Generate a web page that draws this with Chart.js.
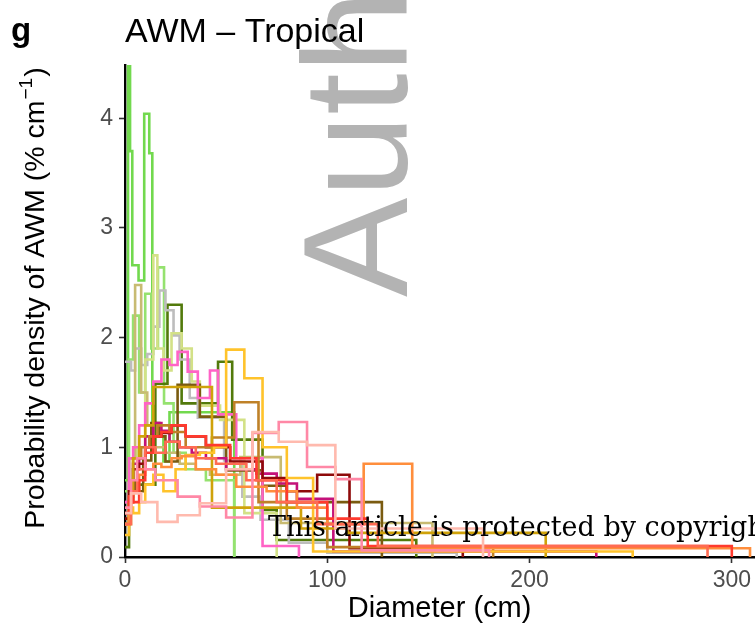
<!DOCTYPE html>
<html lang="en">
<head>
<meta charset="UTF-8">
<style>
  html, body { margin: 0; padding: 0; background: #fff; overflow: hidden; }
  #wrap { width: 755px; height: 627px; }
</style>
<script src="https://cdn.jsdelivr.net/npm/chart.js"></script>
</head>
<body>
<div id="wrap"><canvas id="chart" width="755" height="627"></canvas></div>
<script>
// x ticks / y ticks
const xTicks = [0, 100, 200, 300];
const yTicks = [0, 1, 2, 3, 4];

// one pair of arrays per site: bin edges (cm) and density (% per cm)
const edgesGreenTall = [0, 1.5, 2.5, 3.6, 6.7, 9.5, 12, 13.5, 19, 22, 54];
const densGreenTall  = [0.7, 4.7, 3.7, 2.66, 2.52, 4.04, 3.68, 1.1, 0.87, 1.32];

const edgesGreen = [0, 2, 4, 7, 10, 13, 16.3, 19.3, 24, 30, 40, 54];
const densGreen  = [0.6, 1.8, 2.2, 1.5, 2.4, 1.9, 2.64, 1.4, 0.95, 0.8, 0.7];

const edgesLightGreen = [0, 3, 6, 10, 14, 16, 19, 23, 28, 33, 37, 47, 59, 75];
const densLightGreen  = [0.3, 0.6, 1.0, 1.8, 2.75, 1.9, 1.7, 2.04, 1.9, 1.6, 1.38, 1.25, 0.4];

const edgesKhaki = [0, 2, 5, 8, 11, 14, 20, 27, 35, 42, 57, 77, 152];
const densKhaki  = [0.5, 0.9, 2.48, 1.5, 1.2, 1.0, 0.95, 0.85, 0.8, 0.75, 0.91, 0.31];

const edgesGrey = [0, 3, 5, 8, 11, 14, 17, 20, 24, 27, 32, 36, 49, 58, 67, 81, 100, 164];
const densGrey  = [1.78, 1.7, 1.9, 1.75, 1.85, 2.1, 2.43, 2.25, 2.02, 1.8, 1.45, 1.27, 0.88, 0.55, 0.34, 0.13, 0.04];

const edgesOlive = [0, 2, 6, 15, 21, 28, 46, 53, 68, 75, 144];
const densOlive  = [0.09, 0.6, 0.66, 1.58, 2.3, 1.4, 1.78, 1.07, 0.43, 0.155];

const edgesAmber = [0, 2, 4, 7, 10, 14, 19, 25, 30, 37, 44, 50, 59, 68, 80, 93, 251];
const densAmber  = [0.2, 0.45, 0.4, 0.5, 0.66, 0.75, 0.6, 0.8, 0.93, 0.95, 1.0, 1.89, 1.63, 1.0, 0.72, 0.05];

const edgesGold = [0, 2, 4, 7, 10, 14, 43, 87, 110, 208];
const densGold  = [0.3, 0.5, 0.9, 1.1, 1.2, 1.55, 0.45, 0.26, 0.22];

const edgesDarkBrown = [0, 2, 5, 9, 13, 17, 20, 26, 37, 50, 68, 80, 127];
const densDarkBrown  = [0.3, 0.7, 0.6, 0.88, 1.22, 1.1, 0.87, 1.57, 1.28, 0.79, 0.65, 0.5];

const edgesBrown = [0, 2, 4, 8, 12, 16, 22, 30, 43, 54, 66, 80, 100, 182];
const densBrown  = [0.3, 0.55, 0.9, 1.0, 1.1, 1.2, 1.14, 1.0, 1.09, 1.41, 0.5, 0.35, 0.09];

const edgesDarkRed = [0, 2, 4, 7, 10, 14, 18, 23, 30, 40, 52, 68, 80, 95, 111, 167];
const densDarkRed  = [0.35, 0.6, 0.8, 0.85, 1.0, 1.1, 1.13, 1.2, 1.1, 1.0, 0.87, 0.72, 0.6, 0.75, 0.08];

const edgesMagenta = [0, 2, 4, 7, 10, 14, 18, 22, 27, 33, 40, 50, 65, 75, 85, 103, 233];
const densMagenta  = [0.4, 0.5, 0.85, 0.9, 1.1, 1.22, 1.15, 1.05, 1.0, 0.95, 0.9, 0.8, 0.76, 0.67, 0.53, 0.05];

const edgesPink = [0, 2, 4, 7, 10, 14, 18, 22, 26, 31, 36, 42, 46, 55, 68, 86];
const densPink  = [0.5, 0.9, 1.0, 1.2, 1.4, 1.6, 1.8, 1.75, 1.87, 1.69, 1.45, 1.7, 1.3, 0.9, 0.1];

const edgesRose = [0, 3, 6, 10, 15, 26, 37, 50, 63, 76, 90, 104, 117, 180];
const densRose  = [0.45, 0.7, 0.9, 0.8, 0.7, 0.55, 0.46, 0.36, 1.13, 1.23, 0.82, 0.71, 0.06];

const edgesSalmon = [0, 3, 8, 16, 26, 37, 50, 63, 76, 90, 104, 177];
const densSalmon  = [0.4, 0.58, 0.5, 0.32, 0.38, 0.49, 0.8, 1.14, 1.05, 1.02, 0.26];

const edgesOrange = [0, 2, 4, 7, 10, 14, 18, 23, 28, 35, 45, 55, 70, 85, 100, 118, 142, 309];
const densOrange  = [0.3, 0.5, 0.6, 0.75, 0.8, 0.85, 0.82, 0.9, 0.92, 0.8, 0.75, 0.64, 0.6, 0.45, 0.3, 0.85, 0.08];

const edgesRed = [0, 2, 4, 7, 10, 14, 18, 23, 30, 40, 52, 65, 80, 100, 120, 300];
const densRed  = [0.4, 0.55, 0.5, 0.7, 0.95, 1.1, 1.14, 1.2, 1.1, 1.02, 0.9, 0.7, 0.5, 0.35, 0.1];

const edgesCoral = [0, 3, 6, 10, 15, 20, 27, 35, 45, 60, 75, 95, 125, 288];
const densCoral  = [0.3, 0.6, 0.8, 1.0, 0.95, 1.05, 1.0, 0.9, 0.85, 0.7, 0.5, 0.3, 0.1];

const siteEdges = [edgesSalmon, edgesRose, edgesCoral, edgesRed, edgesOrange, edgesAmber, edgesGold,
                   edgesBrown, edgesDarkRed, edgesMagenta, edgesPink, edgesDarkBrown, edgesKhaki,
                   edgesLightGreen, edgesGrey, edgesOlive, edgesGreen, edgesGreenTall];
const siteDens = [densSalmon, densRose, densCoral, densRed, densOrange, densAmber, densGold,
                  densBrown, densDarkRed, densMagenta, densPink, densDarkBrown, densKhaki,
                  densLightGreen, densGrey, densOlive, densGreen, densGreenTall];
const siteColors = ['#FFBAAE', '#FF88A6', '#FF6B52', '#FF3A2E', '#FF8E3C', '#FFC32B', '#CFA20A',
                    '#BF8128', '#8E0A0A', '#C4127A', '#FF63C6', '#7A5B10', '#C8BB72',
                    '#D3E187', '#BDBDBD', '#527A0B', '#95E26F', '#72D94E'];

function stepPoints(edges, dens) {
  const pts = [];
  for (let i = 0; i < dens.length; i++) pts.push({ x: edges[i], y: dens[i] });
  pts.push({ x: edges[edges.length - 1], y: 0 });
  return pts;
}

const datasets = siteEdges.map((e, i) => ({
  data: stepPoints(e, siteDens[i]),
  borderColor: siteColors[i],
  borderWidth: 2.6,
  stepped: 'before',
  pointRadius: 0,
  fill: false
}));

const sans = "'Liberation Sans', Arial, sans-serif";

const decor = {
  id: 'decor',
  beforeDraw(chart) {
    const ctx = chart.ctx;
    ctx.save();
    ctx.fillStyle = '#fff';
    ctx.fillRect(0, 0, chart.width, chart.height);
    // grey watermark
    ctx.translate(407, 297);
    ctx.rotate(-Math.PI / 2);
    ctx.fillStyle = '#B3B3B3';
    ctx.font = '149px ' + sans;
    ctx.textBaseline = 'alphabetic';
    ctx.fillText('Author Manuscript', 0, 0);
    ctx.restore();
  },
  afterDraw(chart) {
    const ctx = chart.ctx;
    ctx.save();
    ctx.fillStyle = '#000';
    ctx.textBaseline = 'alphabetic';
    ctx.font = 'bold 33px ' + sans;
    ctx.fillText('g', 11, 41);
    ctx.font = '34px ' + sans;
    ctx.fillText('AWM \u2013 Tropical', 125, 42);

    // y axis title with a real superscript
    const main = 'Probability density of AWM (% cm';
    const sup = '\u22121';
    const close = ')';
    ctx.translate(44, 299);
    ctx.rotate(-Math.PI / 2);
    ctx.font = '28.5px ' + sans;
    const w1 = ctx.measureText(main).width;
    const w3 = ctx.measureText(close).width;
    ctx.font = '19px ' + sans;
    const w2 = ctx.measureText(sup).width;
    let x0 = -(w1 + w2 + w3) / 2;
    ctx.font = '28.5px ' + sans;
    ctx.fillText(main, x0, 0);
    ctx.font = '19px ' + sans;
    ctx.fillText(sup, x0 + w1 + 1, -12);
    ctx.font = '28.5px ' + sans;
    ctx.fillText(close, x0 + w1 + w2 + 2, 0);
    ctx.restore();

    ctx.save();
    ctx.fillStyle = '#000';
    ctx.font = "27px 'DejaVu Serif', 'Liberation Serif', serif";
    ctx.fillText('This article is protected by copyright. All rights reserved', 268, 536);
    ctx.restore();
  }
};

new Chart(document.getElementById('chart'), {
  type: 'line',
  data: { datasets: datasets },
  plugins: [decor],
  options: {
    responsive: false,
    animation: false,
    devicePixelRatio: 1,
    layout: { padding: { top: 65, right: 0, left: 0, bottom: 0 } },
    plugins: { legend: { display: false }, tooltip: { enabled: false } },
    elements: { line: { tension: 0 } },
    scales: {
      x: {
        type: 'linear',
        min: 0,
        max: 311,
        afterBuildTicks: s => { s.ticks = xTicks.map(v => ({ value: v })); },
        afterFit: s => { s.height = 70; },
        grid: { drawOnChartArea: false, drawTicks: true, tickLength: 6, tickColor: '#333', tickWidth: 1.6 },
        border: { color: '#000', width: 2.4 },
        ticks: { color: '#4D4D4D', font: { size: 23, family: sans }, padding: 4, maxRotation: 0 },
        title: { display: true, text: 'Diameter (cm)', color: '#000', font: { size: 29, family: sans }, padding: { top: 0, bottom: 1 } }
      },
      y: {
        type: 'linear',
        min: 0,
        max: 4.485,
        afterBuildTicks: s => { s.ticks = yTicks.map(v => ({ value: v })); },
        afterFit: s => { s.width = 125; },
        grid: { drawOnChartArea: false, drawTicks: true, tickLength: 6, tickColor: '#333', tickWidth: 1.6 },
        border: { color: '#000', width: 2.4 },
        ticks: { color: '#4D4D4D', font: { size: 23, family: sans }, padding: 6 },
        title: { display: false }
      }
    }
  }
});
</script>
</body>
</html>
